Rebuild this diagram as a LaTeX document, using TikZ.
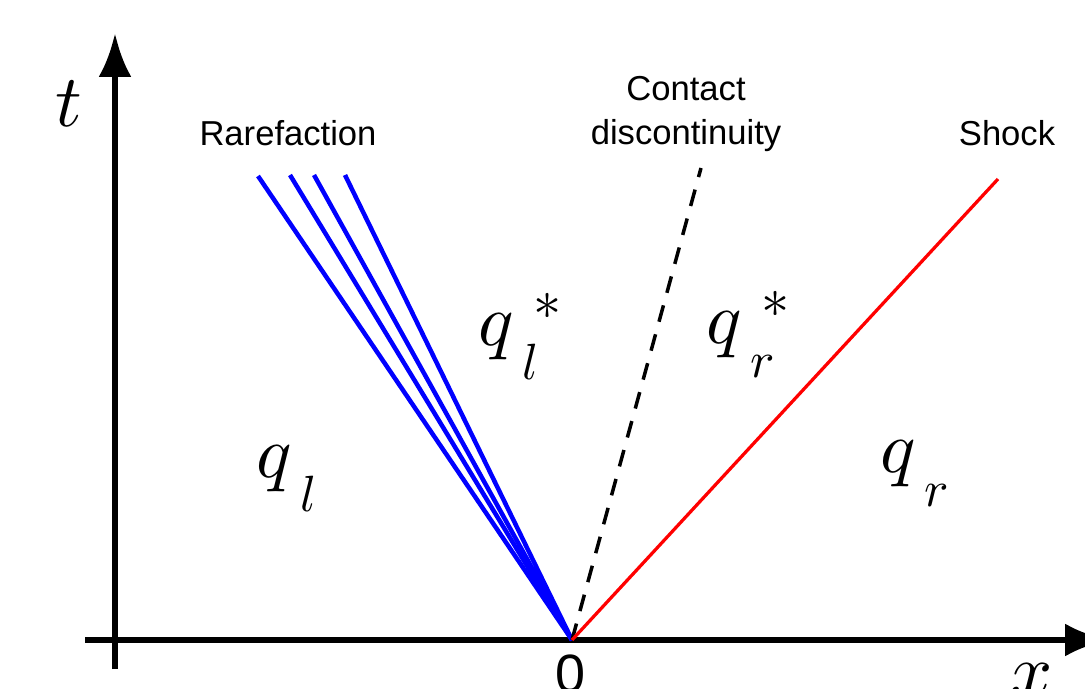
\documentclass[tikz,border=0pt]{standalone}
\usepackage{fontspec}
\setmainfont{Liberation Sans}
\usetikzlibrary{arrows.meta}
\font\mibig=cmmi10 at 42pt
\font\misub=cmmi10 at 29pt
\font\systar=cmsy10 at 32pt
\newcommand\qsub[1]{\rlap{\hspace{0.22cm}\raisebox{-0.7cm}{\misub #1}}}
\newcommand\qstar{\rlap{\hspace{0.44cm}\raisebox{0.52cm}{\systar\char3}}}
\begin{document}
\begin{tikzpicture}[x=0.02cm,y=-0.02cm,
  axis/.style={line width=0.13cm,-{Latex[length=0.88cm,width=0.66cm]}},
  fan/.style={blue,line width=0.09cm},
  shockline/.style={red,line width=0.065cm},
  contactline/.style={black,line width=0.07cm,dash pattern=on 0.34cm off 0.26cm},
  lbl/.style={font=\fontsize{19.7}{24.5}\selectfont,align=center,inner sep=0pt},
  mlbl/.style={font=\mibig,inner sep=0pt,anchor=base west}]
\useasboundingbox (0,0) rectangle (1085,689);
% axes
\coordinate (ybot) at (115,669);
\coordinate (ytop) at (115,33);
\coordinate (xleft) at (85,640);
\coordinate (xright) at (1109,640);
\coordinate (O) at (572,640);
\draw[axis] (ybot) -- (ytop);
\draw[axis] (xleft) -- (xright);
% rarefaction fan
\coordinate (r1) at (258,176);
\coordinate (r2) at (290,175);
\coordinate (r3) at (314,175);
\coordinate (r4) at (345,175);
\draw[fan] (O) -- (r1);
\draw[fan] (O) -- (r2);
\draw[fan] (O) -- (r3);
\draw[fan] (O) -- (r4);
% contact discontinuity
\coordinate (c1) at (701,168);
\draw[contactline] (O) -- (c1);
% shock
\coordinate (s1) at (998,179);
\draw[shockline] (O) -- (s1);
% labels
\node[lbl] (rare) at (288,133) {Rarefaction};
\node[lbl] (cont) at (686,114) {Contact\\discontinuity};
\node[lbl] (shock) at (1007,133) {Shock};
\node[mlbl] (ql) at (256,477) {q\qsub{l}};
\node[mlbl] (qls) at (478,345) {q\qsub{l}\qstar};
\node[mlbl] (qrs) at (706,343) {q\qsub{r}\qstar};
\node[mlbl] (qr) at (880,472) {q\qsub{r}};
\node[mlbl] (tl) at (55,127) {t};
\node[mlbl] (xl) at (1010,695) {x};
\node[font=\fontsize{30.7}{36}\selectfont,inner sep=0pt,anchor=base] (zero) at (570,692) {0};
\end{tikzpicture}
\end{document}
